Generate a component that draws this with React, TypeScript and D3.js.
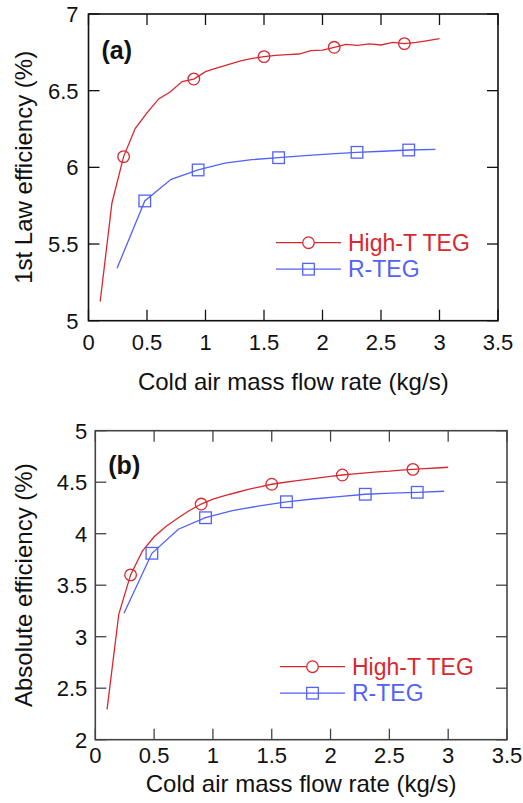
import React from "react";
import * as d3 from "d3";

// ---------- data ----------
const X_TICKS = [0, 0.5, 1, 1.5, 2, 2.5, 3, 3.5];
const X_TICK_LABELS = ["0", "0.5", "1", "1.5", "2", "2.5", "3", "3.5"];
const Y_TICKS_A = [5, 5.5, 6, 6.5, 7];
const Y_TICK_LABELS_A = ["5", "5.5", "6", "6.5", "7"];
const Y_TICKS_B = [2, 2.5, 3, 3.5, 4, 4.5, 5];
const Y_TICK_LABELS_B = ["2", "2.5", "3", "3.5", "4", "4.5", "5"];

const SERIES_NAMES = ["High-T TEG", "R-TEG"];

const HT_X = [0.1, 0.2, 0.3, 0.4, 0.5, 0.6, 0.7, 0.8, 0.9, 1.0, 1.1, 1.2, 1.3, 1.4, 1.5,
  1.6, 1.7, 1.8, 1.9, 2.0, 2.1, 2.2, 2.3, 2.4, 2.5, 2.6, 2.7, 2.8, 2.9, 3.0];
const HT_A = [5.125, 5.766, 6.07, 6.255, 6.355, 6.446, 6.493, 6.559, 6.576, 6.624, 6.648, 6.672,
  6.694, 6.71, 6.722, 6.73, 6.735, 6.739, 6.761, 6.765, 6.783, 6.802, 6.795, 6.805, 6.798,
  6.815, 6.807, 6.815, 6.827, 6.839];
const HT_B = [2.295, 3.22, 3.6, 3.83, 3.97, 4.07, 4.15, 4.225, 4.288, 4.335, 4.37, 4.4, 4.43,
  4.455, 4.48, 4.497, 4.513, 4.528, 4.543, 4.557, 4.57, 4.58, 4.59, 4.6, 4.607, 4.617, 4.625,
  4.632, 4.638, 4.645];
const HT_MARKERS = [2, 8, 14, 20, 26];

const R_X = [0.244, 0.481, 0.706, 0.937, 1.165, 1.395, 1.625, 1.849, 2.072, 2.295, 2.516, 2.737, 2.965];
const R_A = [5.342, 5.781, 5.922, 5.983, 6.027, 6.05, 6.063, 6.077, 6.088, 6.098, 6.105, 6.113, 6.117];
const R_B = [3.227, 3.81, 4.043, 4.155, 4.225, 4.27, 4.31, 4.337, 4.36, 4.383, 4.393, 4.402, 4.412];
const R_MARKERS = [1, 3, 6, 9, 11];

// ---------- styles ----------
const RED = "#d7282f";
const BLUE = "#5262f7";
const FONT = "'Liberation Sans', Arial, Helvetica, sans-serif";

type PanelProps = {
  label: string;
  yTitle: string;
  yTicks: number[];
  yTickLabels: string[];
  yDomain: [number, number];
  htY: number[];
  rY: number[];
  box: { l: number; r: number; t: number; b: number };
  frameColor: string;
  xLabelDy: number;
  xTitleDy: number;
  yLabelGap: number;
  legend: { x: number; y: number };
  labelDy: number;
};

function Panel(p: PanelProps) {
  const { box } = p;
  const x = d3.scaleLinear().domain([0, 3.5]).range([box.l, box.r]);
  const y = d3.scaleLinear().domain(p.yDomain).range([box.b, box.t]);
  const line = d3
    .line<[number, number]>()
    .x((d) => x(d[0]))
    .y((d) => y(d[1]));
  const htPts: [number, number][] = HT_X.map((v, i) => [v, p.htY[i]]);
  const rPts: [number, number][] = R_X.map((v, i) => [v, p.rY[i]]);
  const tick = 11;
  const ms = 5.8;
  const legLine = 65;
  const rowGap = 26.5;
  return (
    <g>
      {/* data lines */}
      <path d={line(htPts) || ""} fill="none" stroke={RED} strokeWidth={1.3} />
      <path d={line(rPts) || ""} fill="none" stroke={BLUE} strokeWidth={1.3} />
      {HT_MARKERS.map((i) => (
        <circle key={"c" + i} cx={x(HT_X[i])} cy={y(p.htY[i])} r={ms} fill="none" stroke={RED} strokeWidth={1.3} />
      ))}
      {R_MARKERS.map((i) => (
        <rect key={"s" + i} x={x(R_X[i]) - ms} y={y(p.rY[i]) - ms} width={ms * 2} height={ms * 2} fill="none" stroke={BLUE} strokeWidth={1.3} />
      ))}
      {/* frame */}
      <rect x={box.l} y={box.t} width={box.r - box.l} height={box.b - box.t} fill="none" stroke={p.frameColor} strokeWidth={1.6} />
      {/* x ticks */}
      {X_TICKS.map((v, i) => (
        <g key={"x" + i}>
          <line x1={x(v)} x2={x(v)} y1={box.b} y2={box.b - tick} stroke={p.frameColor} strokeWidth={1.3} />
          <line x1={x(v)} x2={x(v)} y1={box.t} y2={box.t + tick} stroke={p.frameColor} strokeWidth={1.3} />
          <text x={x(v)} y={box.b + p.xLabelDy} textAnchor="middle" fontSize={22} fontFamily={FONT} fill="#111">
            {X_TICK_LABELS[i]}
          </text>
        </g>
      ))}
      {/* y ticks */}
      {p.yTicks.map((v, i) => (
        <g key={"y" + i}>
          <line x1={box.l} x2={box.l + tick} y1={y(v)} y2={y(v)} stroke={p.frameColor} strokeWidth={1.3} />
          <line x1={box.r} x2={box.r - tick} y1={y(v)} y2={y(v)} stroke={p.frameColor} strokeWidth={1.3} />
          <text x={box.l - p.yLabelGap} y={y(v) + 8} textAnchor="end" fontSize={22} fontFamily={FONT} fill="#111">
            {p.yTickLabels[i]}
          </text>
        </g>
      ))}
      {/* axis titles */}
      <text x={(box.l + box.r) / 2} y={box.b + p.xTitleDy} textAnchor="middle" fontSize={24} fontFamily={FONT} fill="#111">
        Cold air mass flow rate (kg/s)
      </text>
      <text
        transform={`translate(32, ${(box.t + box.b) / 2}) rotate(-90)`}
        textAnchor="middle"
        fontSize={24}
        fontFamily={FONT}
        fill="#111"
      >
        {p.yTitle}
      </text>
      {/* panel label */}
      <text x={box.l + 13} y={box.t + p.labelDy} fontSize={25} fontWeight="bold" fontFamily={FONT} fill="#111">
        {p.label}
      </text>
      {/* legend */}
      <g>
        <line x1={p.legend.x} x2={p.legend.x + legLine} y1={p.legend.y} y2={p.legend.y} stroke={RED} strokeWidth={1.3} />
        <circle cx={p.legend.x + legLine / 2} cy={p.legend.y} r={ms} fill="white" stroke={RED} strokeWidth={1.3} />
        <text x={p.legend.x + legLine + 7} y={p.legend.y + 8} fontSize={23} fontFamily={FONT} fill={RED}>
          {SERIES_NAMES[0]}
        </text>
        <line x1={p.legend.x} x2={p.legend.x + legLine} y1={p.legend.y + rowGap} y2={p.legend.y + rowGap} stroke={BLUE} strokeWidth={1.3} />
        <rect x={p.legend.x + legLine / 2 - ms} y={p.legend.y + rowGap - ms} width={ms * 2} height={ms * 2} fill="none" stroke={BLUE} strokeWidth={1.3} />
        <text x={p.legend.x + legLine + 7} y={p.legend.y + rowGap + 8} fontSize={23} fontFamily={FONT} fill={BLUE}>
          {SERIES_NAMES[1]}
        </text>
      </g>
    </g>
  );
}

export default function App() {
  return (
    <svg width={523} height={803} style={{ position: "absolute", left: 0, top: 0, background: "white" }}>
      <rect width={523} height={803} fill="white" />
      <Panel
        label="(a)"
        yTitle="1st Law efficiency (%)"
        yTicks={Y_TICKS_A}
        yTickLabels={Y_TICK_LABELS_A}
        yDomain={[5, 7]}
        htY={HT_A}
        rY={R_A}
        box={{ l: 88.5, r: 498, t: 14, b: 320.7 }}
        frameColor="#111"
        xLabelDy={29}
        xTitleDy={69}
        yLabelGap={10}
        legend={{ x: 276, y: 242.7 }}
        labelDy={45}
      />
      <Panel
        label="(b)"
        yTitle="Absolute efficiency (%)"
        yTicks={Y_TICKS_B}
        yTickLabels={Y_TICK_LABELS_B}
        yDomain={[2, 5]}
        htY={HT_B}
        rY={R_B}
        box={{ l: 95.3, r: 507, t: 430.7, b: 739.7 }}
        frameColor="#444"
        xLabelDy={23}
        xTitleDy={52}
        yLabelGap={8}
        legend={{ x: 280, y: 666.7 }}
        labelDy={43}
      />
    </svg>
  );
}
